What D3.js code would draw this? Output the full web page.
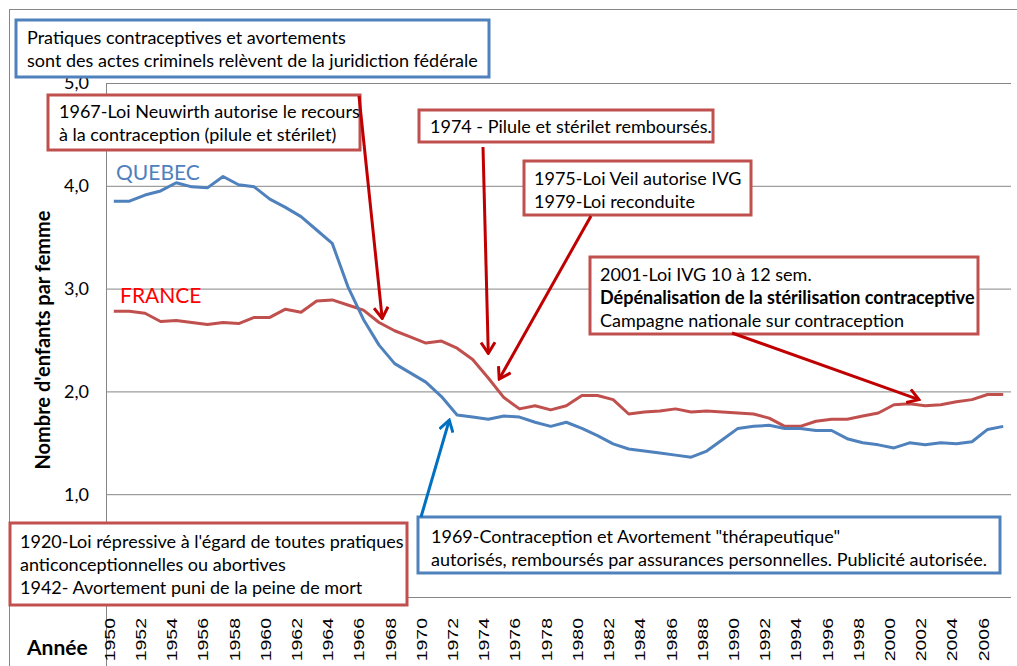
<!DOCTYPE html>
<html>
<head>
<meta charset="utf-8">
<script src="https://cdn.jsdelivr.net/npm/d3@7"></script>
<style>
  body { margin: 0; background: #fff; }
  svg text { font-family: Lato, "Noto Sans", sans-serif; fill: #000; }
</style>
</head>
<body>
<div id="chart"></div>
<script>
// --- data ---
const years = d3.range(1950, 2008);
const quebec = [3.85, 3.85, 3.91, 3.95, 4.03, 3.99, 3.98, 4.09, 4.01, 3.99,
  3.87, 3.79, 3.70, 3.57, 3.44, 3.02, 2.70, 2.45, 2.27, 2.18,
  2.09, 1.95, 1.77, 1.75, 1.73, 1.76, 1.75, 1.70, 1.66, 1.70,
  1.64, 1.57, 1.49, 1.44, 1.42, 1.40, 1.38, 1.36, 1.42, 1.53,
  1.64, 1.66, 1.67, 1.64, 1.64, 1.62, 1.62, 1.54, 1.50, 1.48,
  1.45, 1.50, 1.48, 1.50, 1.49, 1.51, 1.63, 1.66];
const france = [2.78, 2.78, 2.76, 2.68, 2.69, 2.67, 2.65, 2.67, 2.66, 2.72,
  2.72, 2.80, 2.77, 2.88, 2.89, 2.84, 2.79, 2.67, 2.59, 2.53,
  2.47, 2.49, 2.42, 2.31, 2.13, 1.94, 1.83, 1.86, 1.82, 1.86,
  1.96, 1.96, 1.92, 1.78, 1.80, 1.81, 1.83, 1.80, 1.81, 1.80,
  1.79, 1.78, 1.74, 1.66, 1.66, 1.71, 1.73, 1.73, 1.76, 1.79,
  1.87, 1.88, 1.86, 1.87, 1.90, 1.92, 1.97, 1.97];
const gridTicks = [0, 1, 2, 3, 4, 5];
const yTickLabels = [1, 2, 3, 4, 5];
const xTickYears = years.filter(d => d % 2 === 0);

// annotation boxes (text) and arrows (tip given as [year, value])
const notes = [
  { x: 16, y: 20, w: 473, h: 57, c: '#4F81BD', tx: 27, lines: [
    ['Pratiques contraceptives et avortements'],
    ['sont des actes criminels relèvent de la juridiction fédérale']], base: 44 },
  { x: 48, y: 95, w: 312, h: 55, c: '#C0504D', tx: 59, lines: [
    ['1967-Loi Neuwirth autorise le recours'],
    ['à la contraception (pilule et stérilet)']], base: 118 },
  { x: 419, y: 110, w: 294, h: 32, c: '#C0504D', tx: 430, lines: [
    ['1974 - Pilule et stérilet remboursés.']], base: 133 },
  { x: 524, y: 161, w: 227, h: 54, c: '#C0504D', tx: 534, lines: [
    ['1975-Loi Veil autorise IVG'],
    ['1979-Loi reconduite']], base: 185 },
  { x: 590, y: 257, w: 388, h: 77, c: '#C0504D', tx: 600, lines: [
    ['2001-Loi IVG 10 à 12 sem.'],
    ['Dépénalisation de la stérilisation contraceptive', 'bold'],
    ['Campagne nationale sur contraception']], base: 281 },
  { x: 10, y: 523, w: 397, h: 82, c: '#C0504D', tx: 20, lines: [
    ["1920-Loi répressive à l'égard de toutes pratiques"],
    ['anticonceptionnelles ou abortives'],
    ['1942- Avortement puni de la peine de mort']], base: 548 },
  { x: 418, y: 517, w: 582, h: 56, c: '#4F81BD', tx: 431, lines: [
    ['1969-Contraception et Avortement "thérapeutique"'],
    ['autorisés, remboursés par assurances personnelles.  Publicité autorisée.']], base: 543 }
];
const arrows = [
  { from: [359, 96], tip: [1967.2, 2.71], c: '#C00000' },
  { from: [483, 147], tip: [1974.0, 2.37], c: '#C00000' },
  { from: [591, 216], tip: [1974.7, 2.12], c: '#C00000' },
  { from: [732, 333], tip: [2001.6, 1.92], c: '#C00000' },
  { from: [421, 517], tip: [1971.5, 1.72], c: '#0070C0' }
];

// --- layout ---
const W = 1017, H = 666;
const plot = { left: 106, right: 1011, top: 83, bottom: 597 };

const svg = d3.select('#chart').append('svg')
  .attr('width', W).attr('height', H);

svg.append('rect')
  .attr('x', 9.5).attr('y', 9.5).attr('width', W).attr('height', H)
  .attr('fill', 'none').attr('stroke', '#868686');

const x = d3.scaleBand().domain(years).range([plot.left, plot.right]);
const bw = x.bandwidth();
const xc = d3.scaleLinear().domain([1950, 2007])
  .range([x(1950) + bw / 2, x(2007) + bw / 2]);
const y = d3.scaleLinear().domain([0, 5]).range([plot.bottom, plot.top]);

// gridlines
svg.append('g').selectAll('line').data(gridTicks).enter().append('line')
  .attr('x1', plot.left).attr('x2', plot.right)
  .attr('y1', d => y(d) + 0.5).attr('y2', d => y(d) + 0.5)
  .attr('stroke', '#868686').attr('stroke-width', 1);

svg.append('line')
  .attr('x1', plot.left + 0.5).attr('x2', plot.left + 0.5)
  .attr('y1', plot.top).attr('y2', H)
  .attr('stroke', '#868686');

// y tick labels
svg.append('g').selectAll('text').data(yTickLabels).enter().append('text')
  .attr('x', 89).attr('y', d => y(d)).attr('dy', '0.36em')
  .attr('text-anchor', 'end').style('font-size', '18px')
  .text(d => d.toFixed(1).replace('.', ','));

svg.append('text')
  .attr('transform', 'translate(50,340) rotate(-90)')
  .attr('text-anchor', 'middle')
  .style('font-size', '20px').style('font-weight', 'bold')
  .text("Nombre d'enfants par femme");

// x tick labels
svg.append('g').selectAll('text').data(xTickYears).enter().append('text')
  .attr('transform', d => 'translate(' + (x(d) + bw / 2 + 1) + ',618) rotate(-90) scale(1.3,1)')
  .attr('text-anchor', 'end')
  .style('font-family', '"Liberation Sans", Arial, sans-serif')
  .style('font-size', '15px')
  .text(d => d);

svg.append('text')
  .attr('x', 27).attr('y', 655)
  .style('font-size', '21px').style('font-weight', 'bold')
  .text('Année');

// series
const line = d3.line()
  .x((d, i) => x(years[i]) + bw / 2)
  .y(d => y(d));

svg.append('path').datum(france)
  .attr('d', line).attr('fill', 'none')
  .attr('stroke', '#C0504D').attr('stroke-width', 3).attr('stroke-linejoin', 'round');
svg.append('path').datum(quebec)
  .attr('d', line).attr('fill', 'none')
  .attr('stroke', '#4F81BD').attr('stroke-width', 3).attr('stroke-linejoin', 'round');

svg.append('text')
  .attr('x', 116).attr('y', 180)
  .style('font-size', '21px').style('fill', '#4F81BD')
  .text('QUEBEC');
svg.append('text')
  .attr('x', 120).attr('y', 303)
  .style('font-size', '21px').style('fill', '#FF0000')
  .text('FRANCE');

// boxes
const box = svg.append('g').selectAll('g').data(notes).enter().append('g');
box.append('rect')
  .attr('x', d => d.x).attr('y', d => d.y)
  .attr('width', d => d.w).attr('height', d => d.h)
  .attr('fill', '#fff').attr('stroke', d => d.c).attr('stroke-width', 3);
box.each(function (d) {
  d3.select(this).selectAll('text').data(d.lines).enter().append('text')
    .attr('x', d.tx).attr('y', (l, i) => d.base + i * 23)
    .style('font-size', '18px')
    .style('font-weight', l => l[1] || 'normal')
    .text(l => l[0]);
});

// arrows
const defs = svg.append('defs');
['#C00000', '#0070C0'].forEach((c, i) => {
  defs.append('marker')
    .attr('id', 'arr' + i)
    .attr('viewBox', '0 0 16 16')
    .attr('markerUnits', 'userSpaceOnUse')
    .attr('markerWidth', 16).attr('markerHeight', 16)
    .attr('refX', 14).attr('refY', 8)
    .attr('orient', 'auto')
    .append('path')
    .attr('d', 'M3,1 L14,8 L3,15')
    .attr('fill', 'none').attr('stroke', c).attr('stroke-width', 3);
});

svg.append('g').selectAll('line').data(arrows).enter().append('line')
  .attr('x1', d => d.from[0]).attr('y1', d => d.from[1])
  .attr('x2', d => xc(d.tip[0])).attr('y2', d => y(d.tip[1]))
  .attr('stroke', d => d.c).attr('stroke-width', 3)
  .attr('marker-end', d => d.c === '#C00000' ? 'url(#arr0)' : 'url(#arr1)');
</script>
</body>
</html>
